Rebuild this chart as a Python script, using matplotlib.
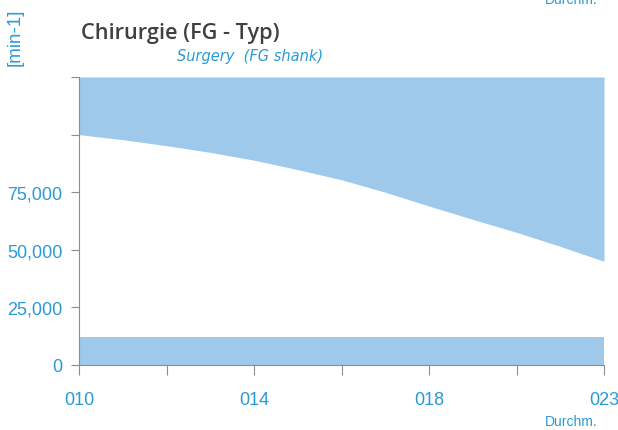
import numpy as np
import matplotlib
matplotlib.use("Agg")
import matplotlib.pyplot as plt

# diameter classes on a categorical axis
diam = ["010", "012", "014", "016", "018", "020", "023"]
diam_labels = ["010", "", "014", "", "018", "", "023"]

# speed limits [min-1], read every half class step along the diameter axis
speed_opt = [100000, 97800, 95200, 92300, 88900, 84800, 80400,
             75000, 69000, 63200, 57600, 51500, 45000]
speed_max = [125000] * len(speed_opt)
speed_min = [12000] * len(speed_opt)

yticks = [0, 25000, 50000, 75000, 100000, 125000]
ytick_labels = ["0", "25,000", "50,000", "75,000", "", ""]

BAND = "#9ec9ea"
BLUE = "#2a9ad6"
GREY = "#8c8c8c"

plt.rcParams.update({"font.family": ["Liberation Sans", "DejaVu Sans"]})

fig = plt.figure(figsize=(6.18, 4.31), dpi=100)
ax = fig.add_axes([79 / 618, 65 / 431, 525 / 618, 288 / 431])

xs = np.linspace(0, len(diam) - 1, len(speed_opt))
ax.fill_between(xs, speed_opt, speed_max, color=BAND, lw=0)
ax.fill_between(xs, 0, speed_min, color=BAND, lw=0)

ax.set_xlim(0, len(diam) - 1)
ax.set_ylim(0, 125000)
ax.set_xticks(np.arange(len(diam)))
ax.set_xticklabels(diam_labels)
ax.set_yticks(yticks)
ax.set_yticklabels(ytick_labels)

for s in ["top", "right"]:
    ax.spines[s].set_visible(False)
for s in ["left", "bottom"]:
    ax.spines[s].set_color(GREY)
    ax.spines[s].set_linewidth(0.8)
ax.tick_params(axis="y", colors=GREY, labelcolor=BLUE, labelsize=13, length=6, width=0.8, pad=6)
ax.tick_params(axis="x", colors=GREY, labelcolor=BLUE, labelsize=13, length=7, width=0.8, pad=12)

fig.text(81 / 618, 1 - 38.5 / 431, "Chirurgie (FG - Typ)", fontsize=15.7, color="#404040",
         family="Open Sans", weight="semibold", va="baseline", ha="left")
fig.text(323 / 618, 1 - 56 / 431, "Surgery  (FG shank)", fontsize=10.5, color=BLUE,
         family="DejaVu Sans", style="italic", va="center", ha="right")
fig.text(15 / 618, 1 - 37 / 431, "[min-1]", fontsize=13.5, color=BLUE, rotation=90,
         va="center", ha="center")
fig.text(598 / 618, 1 - 422 / 431, "Durchm.", fontsize=10, color=BLUE, va="center", ha="right")
fig.text(598 / 618, 1.0, "Durchm.", fontsize=10, color=BLUE, va="center", ha="right")

fig.savefig("out.png", dpi=100, facecolor="white")
